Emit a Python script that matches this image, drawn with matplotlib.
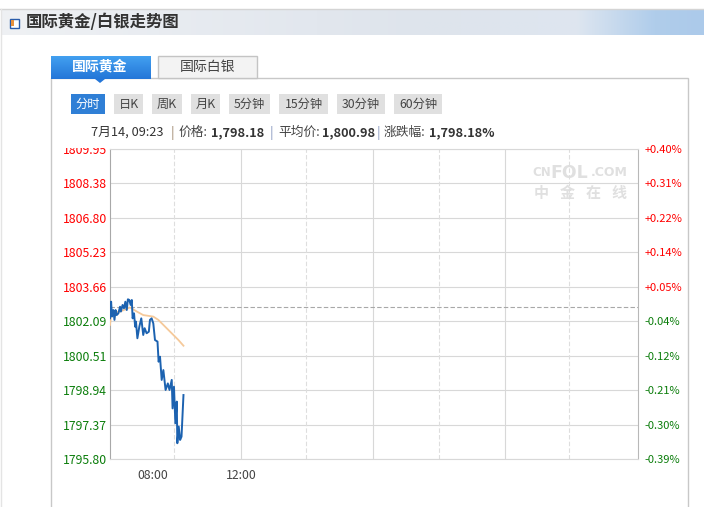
import matplotlib
matplotlib.use('Agg')
import matplotlib.pyplot as plt
import numpy as np
from matplotlib.patches import Rectangle, Polygon
from matplotlib.transforms import Bbox

plt.rcParams['font.family'] = ['Noto Sans CJK SC', 'DejaVu Sans']

W, H = 704, 507

# minutes from the left edge of the plot
price_t = [0, 4, 7, 12, 16, 20, 24, 30, 36, 39, 45, 50, 55, 60, 64, 69, 74, 78, 81, 86, 90, 93, 98, 105, 112,
           119, 124, 131, 139, 143, 149, 155, 161, 170, 174, 179, 185, 191, 199, 207, 213, 221, 224, 229, 234,
           239, 241, 246, 251, 256, 263]
price = [1802.22, 1802.98, 1802.30, 1802.60, 1802.15, 1802.60, 1802.37, 1802.45, 1802.75, 1802.53, 1802.83,
         1802.68, 1802.98, 1802.60, 1803.09, 1803.06, 1802.83, 1803.06, 1802.22, 1802.45, 1801.84, 1802.07,
         1801.31, 1801.84, 1802.22, 1801.46, 1801.77, 1801.54, 1801.61, 1802.15, 1802.22, 1801.99, 1801.23,
         1801.16, 1800.24, 1800.47, 1799.41, 1799.86, 1798.95, 1799.25, 1798.95, 1799.41, 1798.11, 1799.10,
         1797.43, 1798.42, 1796.52, 1797.28, 1796.67, 1796.82, 1798.72]

avg_t = [0, 4, 12, 36, 72, 96, 119, 155, 173, 191, 227, 245, 263]
avg = [1801.92, 1802.37, 1802.48, 1802.53, 1802.72, 1802.53, 1802.37, 1802.30, 1802.15, 1801.92, 1801.46,
       1801.23, 1800.97]

base_price = 1802.76
y_ticks = [1809.95, 1808.38, 1806.80, 1805.23, 1803.66, 1802.09, 1800.51, 1798.94, 1797.37, 1795.80]
pct_labels = ['+0.40%', '+0.31%', '+0.22%', '+0.14%', '+0.05%', '-0.04%', '-0.12%', '-0.21%', '-0.30%', '-0.39%']
solid_x = [469, 942, 1413]
dashed_x = [229, 702, 1176, 1642]
x_label_pos = [154, 469]
x_labels = ['08:00', '12:00']
buttons = ['分时', '日K', '周K', '月K', '5分钟', '15分钟', '30分钟', '60分钟']
button_x = [(71, 105), (114, 143), (152, 182), (191, 220), (229, 270), (279, 328), (337, 385), (394, 442)]

fig = plt.figure(figsize=(W / 100, H / 100), dpi=100)

# page chrome, drawn in pixel coordinates
bg = fig.add_axes([0, 0, 1, 1])
bg.axis('off')

bg.plot([0, W], [8.5, 8.5], color='#d4d4d4', lw=1)
bg.plot([0.5, 0.5], [9, H], color='#e4e4e4', lw=1)
r = np.array([0.0, 0.45, 0.6, 0.82, 0.93, 1.0])
c0 = np.array([[239, 241, 244], [226, 231, 238], [222, 228, 236], [222, 230, 240], [176, 205, 235], [172, 202, 234]])
xs = np.linspace(0, 1, 400)
row = np.stack([np.interp(xs, r, c0[:, i]) for i in range(3)], axis=1)[None, :, :] / 255
bg.imshow(row, extent=[1, W, 35, 10], aspect='auto', zorder=1)

bg.add_patch(Rectangle((9.5, 18.5), 9, 9, fc='white', ec='#2a5caa', lw=1, zorder=2))
bg.add_patch(Rectangle((11, 20), 3, 6, fc='#e8913c', ec='none', zorder=3))
bg.text(26, 22.5, '国际黄金/白银走势图', fontsize=11.8, color='#333333', va='center', ha='left',
        fontweight='bold', zorder=3)

bg.add_patch(Rectangle((51, 78), 637, 440, fc='white', ec='#c8c8c8', lw=1, zorder=1))
tab = np.linspace(0, 1, 40)[:, None]
tab_img = np.concatenate([np.interp(tab, [0, 1], [66, 36]), np.interp(tab, [0, 1], [160, 118]),
                          np.interp(tab, [0, 1], [240, 216])], axis=1)[:, None, :] / 255
bg.imshow(tab_img, extent=[51, 151, 79, 56], aspect='auto', zorder=3)
bg.add_patch(Polygon([[95, 79], [105, 79], [100, 83]], fc='#2476d8', ec='none', zorder=3))
bg.text(100, 66.5, '国际黄金', fontsize=10, color='white', ha='center', va='center', fontweight='bold', zorder=4)
bg.add_patch(Rectangle((158, 56), 99, 22, fc='#f3f3f3', ec='#c4c4c4', lw=1, zorder=2))
bg.text(207.5, 66.5, '国际白银', fontsize=10, color='#444444', ha='center', va='center', zorder=4)

for i, name in enumerate(buttons):
    x0, x1 = button_x[i]
    bg.add_patch(Rectangle((x0, 94), x1 - x0, 20, fc='#2f7fd6' if i == 0 else '#e0e0e0', ec='none', zorder=2))
    bg.text((x0 + x1) / 2, 104.5, name, fontsize=8.8, color='white' if i == 0 else '#444444',
            ha='center', va='center', zorder=3)

# status line, one piece at a time so the bold numbers sit where they should
info = [(91, '7月14, 09:23', False, '#333333'), (171, '|', False, '#a08a70'), (179, '价格:', False, '#444444'),
        (211, '1,798.18', True, '#333333'), (270, '|', False, '#8a9ac0'), (278, '平均价:', False, '#444444'),
        (322, '1,800.98', True, '#333333'), (377, '|', False, '#8a9ac0'), (384, '涨跌幅:', False, '#444444'),
        (429, '1,798.18%', True, '#333333')]
for x, s, bold, col in info:
    bg.text(x, 132.5, s, fontsize=9.2, color=col, ha='left', va='center',
            fontweight='bold' if bold else 'normal', zorder=3)

# watermark
wm_pieces = [(532, 'CN', 8.5), (550, 'FOL', 12.5), (591, '.COM', 9)]
for x, s, size in wm_pieces:
    bg.text(x, 173, s, fontsize=size, color='#e0e0e0', ha='left', va='center', fontweight='bold',
            family='DejaVu Sans', zorder=2)
for x, s in zip([541, 567, 593, 619], '中金在线'):
    bg.text(x, 193, s, fontsize=10.8, color='#e0e0e0', ha='center', va='center', fontweight='bold', zorder=2)

bg.set_xlim(0, W)
bg.set_ylim(H, 0)

# chart
left, right, top, bottom = 110, 638, 149, 459
ax = fig.add_axes([left / W, 1 - bottom / H, (right - left) / W, (bottom - top) / H])
ax.patch.set_alpha(0)
ax.set_xlim(0, 1890)
ax.set_ylim(1795.80, 1809.95)
ax.set_yticks(y_ticks)
ax.set_yticklabels([f'{v:.2f}' for v in y_ticks])
ax.set_xticks(x_label_pos)
ax.set_xticklabels(x_labels)
ax.tick_params(axis='x', length=0, pad=7, labelsize=8.8, labelcolor='#444444')
ax.tick_params(axis='y', length=0, pad=2, labelsize=8.8)
ax.grid(False)
for v in y_ticks:
    ax.axhline(v, color='#d8d8d8', lw=0.8, zorder=1)
for v in solid_x:
    ax.axvline(v, color='#d8d8d8', lw=0.8, zorder=1)
for v in dashed_x:
    ax.axvline(v, color='#dedede', lw=0.8, ls=(0, (4, 2)), zorder=1)
for s in ['top', 'bottom']:
    ax.spines[s].set_color('#d8d8d8')
    ax.spines[s].set_linewidth(0.8)
ax.spines['right'].set_color('#b8b8b8')
ax.spines['right'].set_linewidth(0.8)
ax.spines['left'].set_color('#a8a8a8')
ax.axhline(base_price, color='#a8a8a8', lw=0.8, ls=(0, (4, 2)), zorder=2)

ax.plot(avg_t, avg, color='#f5c99a', lw=1.3, zorder=3)
ax.plot(price_t, price, color='#1c62b0', lw=1.4, zorder=4)

for i, lab in enumerate(ax.get_yticklabels()):
    lab.set_color('#ff0000' if i < 5 else '#0b7d0b')
    lab.set_clip_box(Bbox([[0, 0], [W, H - 148]]))
    lab.set_clip_on(True)

ax2 = ax.twinx()
ax2.set_ylim(ax.get_ylim())
ax2.set_yticks(y_ticks)
ax2.set_yticklabels(pct_labels)
ax2.tick_params(axis='y', length=0, pad=5, labelsize=8)
for s in ax2.spines.values():
    s.set_visible(False)
for i, lab in enumerate(ax2.get_yticklabels()):
    lab.set_color('#ff0000' if i < 5 else '#0b7d0b')

fig.savefig('out.png', dpi=100)
